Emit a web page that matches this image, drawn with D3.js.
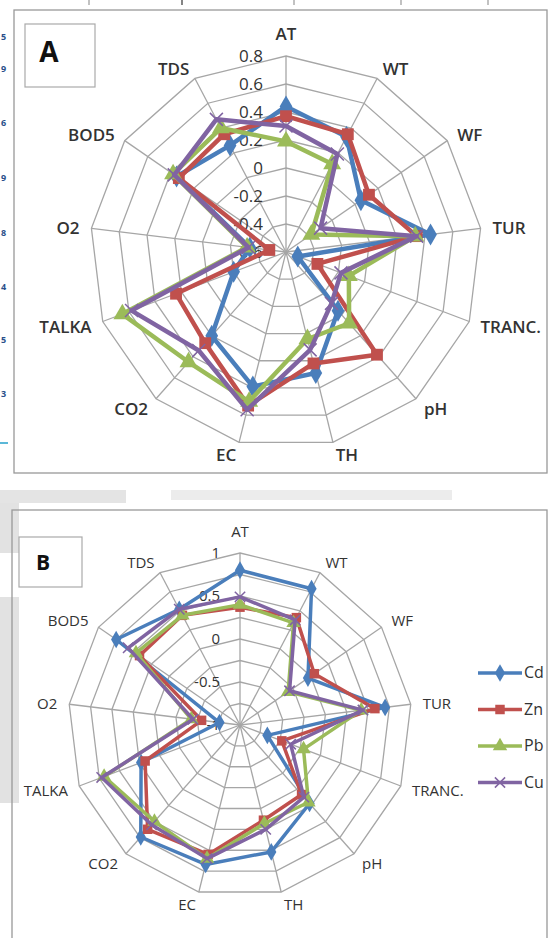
<!DOCTYPE html>
<html>
  <head>
    <meta charset="utf-8">
    <title>Radar charts A and B</title>
    <script src="https://d3js.org/d3.v7.min.js" charset="utf-8"></script>
    <style>
      body { margin: 0; background: #fff; }
      svg { display: block; }
      text { font-family: "Open Sans", "Liberation Sans", sans-serif; fill: #333; }
      .grid { fill: none; stroke: #a6a6a6; stroke-width: 1.3; }
      .frame { fill: none; stroke: #999; stroke-width: 1.3; }
    </style>
  </head>
  <body>
    <svg id="chart" width="549" height="938"></svg>

    <script>
// categories, clockwise from the top
var categories = ["AT", "WT", "WF", "TUR", "TRANC.", "pH", "TH", "EC", "CO2", "TALKA", "O2", "BOD5", "TDS"];
var metals = ["Cd", "Zn", "Pb", "Cu"];
var colors = ["#4a7ebb", "#c0504d", "#9bbb59", "#8064a2"];

// panel A values
var cdA = [0.44, 0.33, 0.05, 0.44, -0.51, -0.04, 0.29, 0.39, 0.20, -0.20, -0.34, 0.35, 0.26];
var znA = [0.37, 0.35, 0.12, 0.34, -0.36, 0.38, 0.22, 0.53, 0.27, 0.24, -0.48, 0.33, 0.35];
var pbA = [0.19, 0.11, -0.38, 0.33, -0.12, 0.08, 0.04, 0.50, 0.45, 0.65, -0.32, 0.38, 0.40];
var cuA = [0.30, 0.19, -0.30, 0.34, -0.18, -0.11, 0.12, 0.56, 0.34, 0.58, -0.33, 0.37, 0.47];
var ticksA = [-0.6, -0.4, -0.2, 0, 0.2, 0.4, 0.6, 0.8];

// panel B values
var cdB = [0.80, 0.79, -0.04, 0.70, -0.66, 0.22, 0.52, 0.67, 0.74, 0.23, -0.76, 0.75, 0.52];
var znB = [0.37, 0.41, 0.05, 0.58, -0.48, 0.08, 0.14, 0.55, 0.62, 0.18, -0.55, 0.42, 0.44];
var pbB = [0.40, 0.34, -0.32, 0.42, -0.21, 0.20, 0.18, 0.60, 0.50, 0.69, -0.43, 0.47, 0.44];
var cuB = [0.49, 0.38, -0.30, 0.44, -0.37, 0.12, 0.25, 0.60, 0.55, 0.72, -0.45, 0.58, 0.52];
var gridB = [-0.75, -0.5, -0.25, 0, 0.25, 0.5, 0.75, 1];
var ticksB = [-1, -0.5, 0, 0.5, 1];

var svg = d3.select("#chart");

// bits of the surrounding page that show in the scan
var page = svg.append("g");
page.append("rect").attr("x", 0).attr("y", 490).attr("width", 126).attr("height", 13).attr("fill", "#e4e4e4");
page.append("rect").attr("x", 171).attr("y", 490).attr("width", 281).attr("height", 10).attr("fill", "#ececec");
page.append("rect").attr("x", 0).attr("y", 503).attr("width", 19).attr("height", 50).attr("fill", "#e2e2e2");
page.append("rect").attr("x", 0).attr("y", 597).attr("width", 19).attr("height", 206).attr("fill", "#e2e2e2");
[89, 182, 294, 401, 488].forEach(function(x) {
  page.append("line").attr("x1", x).attr("x2", x).attr("y1", 0).attr("y2", 5)
    .attr("stroke", x == 182 ? "#333" : "#999").attr("stroke-width", 1.2);
});
page.append("line").attr("x1", 0).attr("x2", 8).attr("y1", 443).attr("y2", 443)
  .attr("stroke", "#5bb8d8").attr("stroke-width", 2);
[["5", 40], ["9", 72], ["6", 126], ["9", 181], ["8", 236], ["4", 290], ["5", 343], ["3", 397]].forEach(function(d) {
  page.append("text").attr("x", 1).attr("y", d[1]).style("font-size", "9px")
    .style("fill", "#2a4f8a").style("font-weight", "bold").text(d[0]);
});

// frames
svg.append("rect").attr("class", "frame").attr("x", 14).attr("y", 10).attr("width", 533).attr("height", 463);
svg.append("rect").attr("class", "frame").attr("x", 12).attr("y", 510).attr("width", 535).attr("height", 440);

// panel letters
svg.append("rect").attr("x", 25).attr("y", 24).attr("width", 70).attr("height", 63)
  .attr("fill", "#fff").attr("stroke", "#aaa").attr("stroke-width", 1.2);
svg.append("text").attr("x", 49).attr("y", 62).attr("text-anchor", "middle")
  .style("font-size", "28px").style("font-weight", "bold").style("fill", "#111").text("A");
svg.append("rect").attr("x", 19).attr("y", 537).attr("width", 63).attr("height", 50)
  .attr("fill", "#fff").attr("stroke", "#aaa").attr("stroke-width", 1.2);
svg.append("text").attr("x", 43).attr("y", 570).attr("text-anchor", "middle")
  .style("font-size", "21px").style("font-weight", "bold").style("fill", "#111").text("B");

function drawRadar(cfg) {
  var g = svg.append("g").attr("transform", "translate(" + cfg.cx + "," + cfg.cy + ")");
  var n = categories.length;
  var angle = function(i) { return i * 2 * Math.PI / n; };
  var r = d3.scaleLinear().domain(cfg.domain).range([0, cfg.radius]);

  // rings
  var ring = d3.lineRadial()
    .angle(function(d, i) { return angle(i); })
    .radius(function(d) { return r(d); })
    .curve(d3.curveLinearClosed);
  cfg.grid.forEach(function(v) {
    g.append("path").attr("class", "grid").attr("d", ring(categories.map(function() { return v; })));
  });

  // spokes
  categories.forEach(function(c, i) {
    g.append("line").attr("class", "grid")
      .attr("x1", 0).attr("y1", 0)
      .attr("x2", cfg.radius * Math.sin(angle(i)))
      .attr("y2", -cfg.radius * Math.cos(angle(i)));
  });

  // tick labels left of the top spoke
  cfg.ticks.forEach(function(v) {
    g.append("text")
      .attr("x", -cfg.tickGap)
      .attr("y", -r(v) + cfg.tickDy)
      .attr("text-anchor", "end")
      .style("font-size", cfg.tickSize + "px")
      .text(v);
  });

  // category labels
  categories.forEach(function(c, i) {
    var a = angle(i), s = Math.sin(a), co = Math.cos(a);
    var px = (cfg.radius + cfg.labelOff) * s,
        py = -(cfg.radius + cfg.labelOff) * co;
    var t = g.append("text")
      .attr("x", px)
      .attr("text-anchor", s > 0.05 ? "start" : (s < -0.05 ? "end" : "middle"))
      .style("font-size", cfg.labelSize + "px")
      .style("font-weight", cfg.labelWeight)
      .text(c);
    if (i == 0) t.attr("y", py - 4);
    else t.attr("y", py + cfg.labelDy);
  });

  // series
  var line = d3.lineRadial()
    .angle(function(d, i) { return angle(i); })
    .radius(function(d) { return r(d); })
    .curve(d3.curveLinearClosed);
  var shapes = [d3.symbolDiamond, d3.symbolSquare, d3.symbolTriangle, d3.symbolTimes];

  cfg.series.forEach(function(vals, k) {
    g.append("path")
      .attr("d", line(vals))
      .attr("fill", "none")
      .attr("stroke", colors[k])
      .attr("stroke-width", cfg.lineWidth)
      .attr("stroke-linejoin", "round");
    var sym = d3.symbol().type(shapes[k]).size(k == 3 ? cfg.markSize * 0.8 : cfg.markSize);
    vals.forEach(function(v, i) {
      var x = r(v) * Math.sin(angle(i)), y = -r(v) * Math.cos(angle(i));
      var m = g.append("path")
        .attr("d", sym())
        .attr("transform", "translate(" + x + "," + y + ")");
      if (k == 3) m.attr("fill", "none").attr("stroke", colors[k]).attr("stroke-width", 1.5);
      else m.attr("fill", colors[k]);
    });
  });
}

drawRadar({
  cx: 286, cy: 252, radius: 196,
  domain: [-0.6, 0.8], grid: ticksA.slice(1), ticks: ticksA,
  tickGap: 23, tickDy: 6, tickSize: 17,
  labelOff: 12, labelDy: 7, labelSize: 17, labelWeight: 600,
  lineWidth: 4.5, markSize: 140,
  series: [cdA, znA, pbA, cuA]
});

drawRadar({
  cx: 240, cy: 725, radius: 172,
  domain: [-1, 1], grid: gridB, ticks: ticksB,
  tickGap: 20, tickDy: 5, tickSize: 15,
  labelOff: 12, labelDy: 6, labelSize: 15, labelWeight: 400,
  lineWidth: 3.5, markSize: 90,
  series: [cdB, znB, pbB, cuB]
});

// legend for B
var legend = svg.append("g").attr("transform", "translate(478,673)");
var legendShapes = [d3.symbolDiamond, d3.symbolSquare, d3.symbolTriangle, d3.symbolTimes];
metals.forEach(function(m, k) {
  var row = legend.append("g").attr("transform", "translate(0," + (k * 36.5) + ")");
  row.append("line").attr("x1", 0).attr("x2", 44).attr("stroke", colors[k]).attr("stroke-width", 3.5);
  var p = row.append("path").attr("d", d3.symbol().type(legendShapes[k]).size(k == 3 ? 70 : 90)())
    .attr("transform", "translate(22,0)");
  if (k == 3) p.attr("fill", "none").attr("stroke", colors[k]).attr("stroke-width", 1.5);
  else p.attr("fill", colors[k]);
  row.append("text").attr("x", 46).attr("y", 5).style("font-size", "16px").text(m);
});
    </script>
  </body>
</html>
